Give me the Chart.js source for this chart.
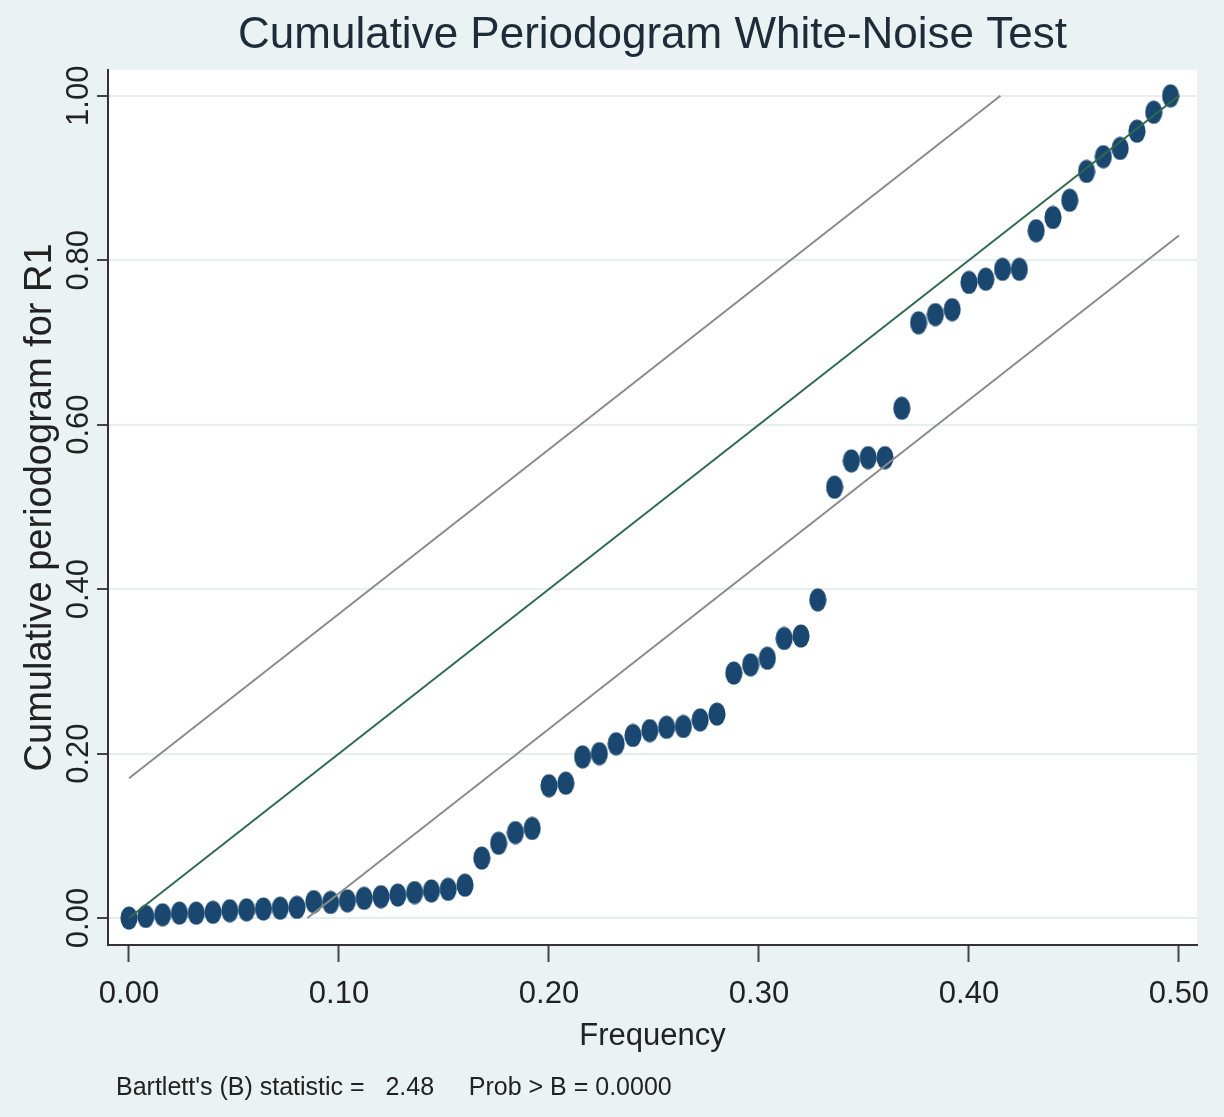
<!DOCTYPE html>
<html><head><meta charset="utf-8">
<script src="https://cdn.jsdelivr.net/npm/chart.js@4.4.1/dist/chart.umd.min.js"></script>
<style>
html,body{margin:0;padding:0;background:#eaf2f3;}
#wrap{width:1224px;height:1117px;position:relative;}
</style></head><body>
<div id="wrap"><canvas id="c" width="1224" height="1117"></canvas></div>
<script>
// ---- data ----
const frequency = [0, 0.008, 0.016, 0.024, 0.032, 0.04, 0.048, 0.056, 0.064, 0.072, 0.08, 0.088, 0.096, 0.104, 0.112, 0.12, 0.128, 0.136, 0.144, 0.152, 0.16, 0.168, 0.176, 0.184, 0.192, 0.2, 0.208, 0.216, 0.224, 0.232, 0.24, 0.248, 0.256, 0.264, 0.272, 0.28, 0.288, 0.296, 0.304, 0.312, 0.32, 0.328, 0.336, 0.344, 0.352, 0.36, 0.368, 0.376, 0.384, 0.392, 0.4, 0.408, 0.416, 0.424, 0.432, 0.44, 0.448, 0.456, 0.464, 0.472, 0.48, 0.488, 0.496];
const cumulativePeriodogram = [0.000, 0.002, 0.004, 0.006, 0.006, 0.007, 0.009, 0.010, 0.011, 0.012, 0.013, 0.020, 0.019, 0.021, 0.024, 0.026, 0.028, 0.031, 0.033, 0.035, 0.040, 0.073, 0.091, 0.104, 0.109, 0.161, 0.164, 0.196, 0.200, 0.212, 0.222, 0.228, 0.232, 0.233, 0.241, 0.248, 0.298, 0.308, 0.316, 0.340, 0.343, 0.387, 0.524, 0.556, 0.560, 0.560, 0.620, 0.724, 0.734, 0.740, 0.773, 0.777, 0.789, 0.789, 0.836, 0.852, 0.873, 0.908, 0.926, 0.936, 0.957, 0.980, 1.000];
const diagonalX = [0, 0.5];
const diagonalY = [0, 1];
const upperBandX = [0, 0.415];
const upperBandY = [0.17, 1.0];
const lowerBandX = [0.085, 0.5];
const lowerBandY = [0, 0.83];
const xTickValues = [0, 0.1, 0.2, 0.3, 0.4, 0.5];
const xTickLabels = ['0.00', '0.10', '0.20', '0.30', '0.40', '0.50'];
const yTickValues = [0, 0.2, 0.4, 0.6, 0.8, 1.0];
const yTickLabels = ['0.00', '0.20', '0.40', '0.60', '0.80', '1.00'];
const titleText = 'Cumulative Periodogram White-Noise Test';
const xTitleText = 'Frequency';
const yTitleText = 'Cumulative periodogram for R1';
const noteText = "Bartlett's (B) statistic =   2.48     Prob > B = 0.0000";

// ---- styling ----
const FONT = '"Liberation Sans", Arial, Helvetica, sans-serif';
const BG = '#eaf2f3';
const DOT = '#1a476f';

const toXY = (xs, ys) => xs.map((x, i) => ({x: x, y: ys[i]}));

// elliptical marker (reference dots are taller than wide)
const dotImg = document.createElement('canvas');
dotImg.width = 18; dotImg.height = 24;
(function(){
  const c = dotImg.getContext('2d');
  c.fillStyle = DOT;
  c.beginPath();
  c.ellipse(9, 12, 8.6, 11.6, 0, 0, Math.PI * 2);
  c.fill();
})();

const backgroundPlugin = {
  id: 'bg',
  beforeDraw(chart) {
    const {ctx, chartArea: a} = chart;
    ctx.save();
    ctx.fillStyle = BG;
    ctx.fillRect(0, 0, chart.width, chart.height);
    ctx.fillStyle = '#ffffff';
    ctx.fillRect(a.left, a.top, a.right - a.left, a.bottom - a.top);
    ctx.restore();
  }
};

const notePlugin = {
  id: 'note',
  afterDraw(chart) {
    const {ctx} = chart;
    ctx.save();
    ctx.font = '25px ' + FONT;
    ctx.fillStyle = '#222222';
    ctx.textAlign = 'left';
    ctx.textBaseline = 'middle';
    ctx.fillText(noteText, chart.chartArea.left + 8, 1088);
    ctx.restore();
  }
};

new Chart(document.getElementById('c'), {
  type: 'scatter',
  data: {
    datasets: [
      {
        label: 'Upper band',
        data: toXY(upperBandX, upperBandY),
        showLine: true, borderColor: '#8a8a8a', borderWidth: 2,
        pointRadius: 0, order: 0
      },
      {
        label: 'Diagonal',
        data: toXY(diagonalX, diagonalY),
        showLine: true, borderColor: '#2f6a4f', borderWidth: 2,
        pointRadius: 0, order: 0
      },
      {
        label: 'Lower band',
        data: toXY(lowerBandX, lowerBandY),
        showLine: true, borderColor: '#8a8a8a', borderWidth: 2,
        pointRadius: 0, order: 0
      },
      {
        label: 'Cumulative periodogram',
        data: toXY(frequency, cumulativePeriodogram),
        showLine: false,
        pointStyle: dotImg, pointRadius: 9, pointHoverRadius: 9,
        backgroundColor: DOT, borderColor: DOT,
        order: 1
      }
    ]
  },
  options: {
    responsive: false,
    animation: false,
    devicePixelRatio: 1,
    layout: {padding: {left: 0, right: 27, top: 0, bottom: 0}},
    plugins: {
      legend: {display: false},
      tooltip: {enabled: false},
      title: {
        display: true,
        fullSize: false,
        text: titleText,
        color: '#1e2b38',
        font: {family: FONT, size: 44, weight: 'normal'},
        padding: {top: 9, bottom: 8}
      }
    },
    scales: {
      x: {
        type: 'linear',
        min: -0.01, max: 0.5086,
        afterBuildTicks: (s) => { s.ticks = xTickValues.map(v => ({value: v})); },
        afterFit: (s) => { s.height = 172; },
        grid: {drawOnChartArea: false, drawTicks: true, tickLength: 17, tickColor: '#444', tickWidth: 2},
        border: {display: true, color: '#333', width: 2},
        ticks: {
          callback: (v, i) => xTickLabels[i],
          font: {family: FONT, size: 31},
          color: '#222', padding: 14, maxRotation: 0, minRotation: 0
        },
        title: {
          display: true, text: xTitleText, color: '#222',
          font: {family: FONT, size: 31},
          padding: {top: 0, bottom: 62}
        }
      },
      y: {
        type: 'linear',
        min: -0.0328, max: 1.0316,
        afterBuildTicks: (s) => { s.ticks = yTickValues.map(v => ({value: v})); },
        afterFit: (s) => { s.width = 108; },
        grid: {drawOnChartArea: true, color: '#e6eef0', lineWidth: 2, drawTicks: true, tickLength: 11, tickColor: '#444', tickWidth: 2},
        border: {display: true, color: '#333', width: 2},
        ticks: {
          callback: (v, i) => yTickLabels[i],
          font: {family: FONT, size: 31},
          color: '#222', padding: -13, minRotation: 90, maxRotation: 90, crossAlign: 'center'
        },
        title: {
          display: true, text: yTitleText, color: '#222',
          font: {family: FONT, size: 38},
          padding: {top: 18, bottom: 0}
        }
      }
    }
  },
  plugins: [backgroundPlugin, notePlugin]
});
</script>
</body></html>
